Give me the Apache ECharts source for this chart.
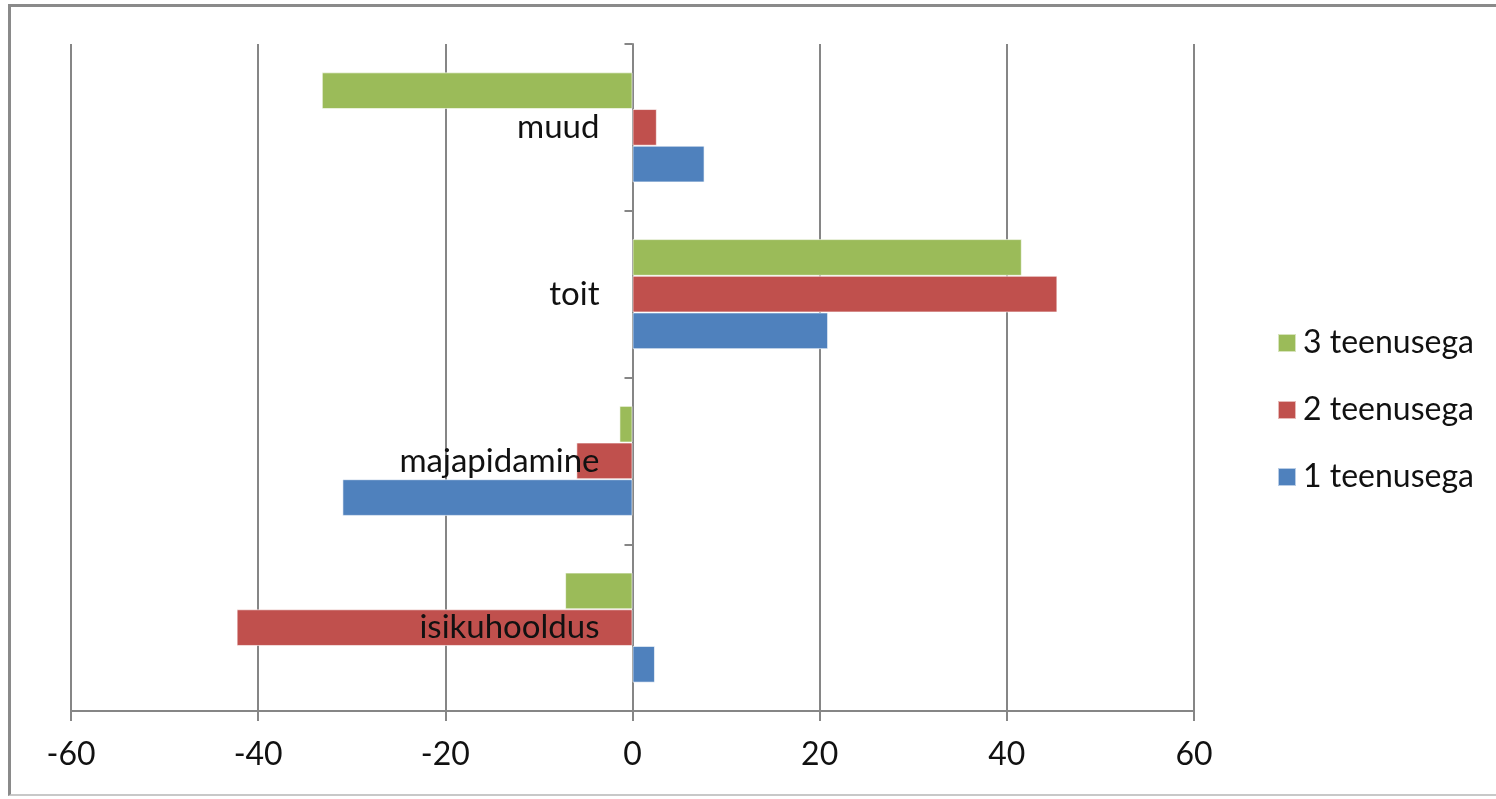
<!DOCTYPE html>
<html>
<head>
<meta charset="utf-8">
<script src="https://cdn.jsdelivr.net/npm/echarts@6/dist/echarts.min.js"></script>
<style>
  html, body { margin: 0; padding: 0; background: #fff; overflow: hidden; }
  #frame { position: absolute; left: 8px; top: 4px; width: 1500px; height: 792px;
           border-left: 3px solid #8a8a8a; border-top: 3px solid #8a8a8a; border-bottom: 2px solid #c8c8c8; box-sizing: border-box; }
  #chart { position: absolute; left: 0; top: 0; width: 1496px; height: 799px; }
</style>
</head>
<body>
<div id="frame"></div>
<div id="chart"></div>
<script>
const categories = ['isikuhooldus', 'majapidamine', 'toit', 'muud'];
const seriesNames = ['1 teenusega', '2 teenusega', '3 teenusega'];
const values1 = [2.4, -31.0, 20.9, 7.7];
const values2 = [-42.3, -6.0, 45.4, 2.6];
const values3 = [-7.2, -1.4, 41.6, -33.2];
const xTicks = { min: -60, max: 60, interval: 20 };
const colors = ['#4F81BD', '#C0504D', '#9BBB59'];

const FONT = 'Lato';
const gridLeft = 71, gridRight = 1194;
const chart = echarts.init(document.getElementById('chart'), null, { renderer: 'canvas' });
const allValues = [values1, values2, values3];
// first series of a horizontal bar group is drawn at the top, so draw 3 -> 1
const order = [2, 1, 0];
// category labels sit next to the zero line
const zeroOffset = -(gridRight - gridLeft) * (0 - xTicks.min) / (xTicks.max - xTicks.min);
chart.setOption({
  animation: false,
  backgroundColor: 'transparent',
  textStyle: { fontFamily: FONT },
  grid: { left: gridLeft, right: 1496 - gridRight, top: 44, bottom: 799 - 711, containLabel: false, outerBoundsMode: 'none' },
  legend: {
    data: [seriesNames[2], seriesNames[1], seriesNames[0]],
    orient: 'vertical',
    left: 1272,
    top: 322,
    itemWidth: 18,
    itemHeight: 18,
    itemGap: 35,
    icon: 'rect',
    textStyle: { fontFamily: FONT, fontSize: 32, color: '#111', lineHeight: 32, padding: [0, 0, 0, 2] }
  },
  xAxis: {
    type: 'value',
    min: xTicks.min, max: xTicks.max, interval: xTicks.interval,
    axisLine: { show: true, lineStyle: { color: '#868686', width: 2 } },
    axisTick: { show: true, length: 10, lineStyle: { color: '#868686', width: 2 } },
    axisLabel: { fontFamily: FONT, fontSize: 32, color: '#111', margin: 28 },
    splitLine: { show: true, lineStyle: { color: '#868686', width: 2 } }
  },
  yAxis: [{
    type: 'category',
    data: categories,
    axisLine: { show: true, onZero: true, lineStyle: { color: '#868686', width: 2 } },
    axisTick: { show: true, length: 8, alignWithLabel: false, lineStyle: { color: '#868686', width: 2 } },
    axisLabel: { show: false },
    splitLine: { show: false }
  }, {
    type: 'category',
    data: categories,
    position: 'left',
    offset: zeroOffset,
    z: 10,
    axisLine: { show: false, onZero: false },
    axisTick: { show: false },
    axisLabel: { fontFamily: FONT, fontSize: 33, color: '#111', margin: 33 },
    splitLine: { show: false }
  }],
  series: order.map(i => ({
    name: seriesNames[i],
    type: 'bar',
    yAxisIndex: 0,
    data: allValues[i],
    barGap: '0%',
    barCategoryGap: '34%',
    itemStyle: { color: colors[i], borderColor: 'rgba(255,255,255,0.6)', borderWidth: 1 }
  }))
});
</script>
</body>
</html>
